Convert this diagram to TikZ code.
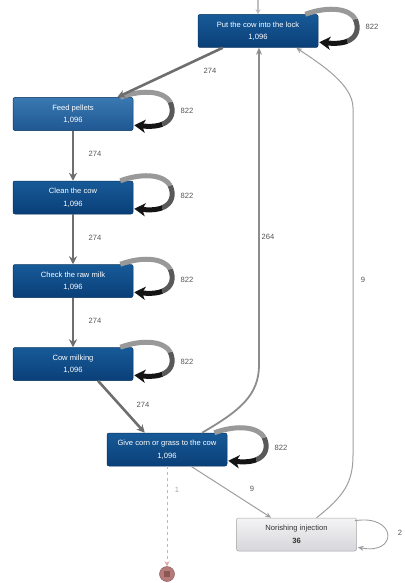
\documentclass[tikz,border=0pt]{standalone}
\usepackage{fontspec}
\setmainfont{Liberation Sans}
\usetikzlibrary{arrows.meta,calc}
\definecolor{actTop}{HTML}{175A98}
\definecolor{actBot}{HTML}{0A3F78}
\definecolor{actLine}{HTML}{08335F}
\definecolor{feedTop}{HTML}{3A78B2}
\definecolor{feedBot}{HTML}{1F5893}
\definecolor{injTop}{HTML}{F4F4F6}
\definecolor{injBot}{HTML}{D6D6DA}
\definecolor{flowMain}{HTML}{6E6E6E}
\definecolor{flowMid}{HTML}{8C8C8C}
\definecolor{flowThin}{HTML}{9E9E9E}
\definecolor{lblGrey}{HTML}{555555}
\definecolor{endFill}{HTML}{B57A7A}
\definecolor{endCore}{HTML}{8E5555}
\definecolor{endLine}{HTML}{E0A8A8}
\begin{document}
\begin{tikzpicture}[x=1pt,y=-1pt,
  act/.style={draw=actLine, line width=0.5pt, rounded corners=2pt,
    top color=actTop, bottom color=actBot, text=white,
    minimum width=120pt, minimum height=33pt, inner sep=0pt,
    align=center, font=\fontsize{7.6}{12.5}\selectfont},
  feedact/.style={act, top color=feedTop, bottom color=feedBot},
  injact/.style={act, draw=gray!70, top color=injTop, bottom color=injBot,
    text=black!80},
  lbl/.style={text=lblGrey, font=\fontsize{7.6}{8}\selectfont, inner sep=1pt},
  mainflow/.style={draw=flowMain, line width=2.6pt,
    -{Stealth[length=8pt,width=8pt]}},
  midflow/.style={draw=flowMid, line width=1.8pt,
    -{Stealth[length=7pt,width=6pt]}},
  thinflow/.style={draw=flowThin, line width=1pt,
    -{Stealth[length=6pt,width=5pt]}},
  loopA/.style={draw=black!40, line width=5pt},
  loopB/.style={draw=black!65, line width=5pt},
  loopC/.style={draw=black!92, line width=5pt,
    -{Stealth[length=11pt,width=13pt,inset=3pt]}},
]
\useasboundingbox (0,0) rectangle (404,583);

% activities
\node[act]     (top)   at (258,31)    {Put the cow into the lock\\1,096};
\node[feedact] (feed)  at (73,114)    {Feed pellets\\1,096};
\node[act]     (clean) at (73,197.5)  {Clean the cow\\1,096};
\node[act]     (check) at (73,281)    {Check the raw milk\\1,096};
\node[act]     (milk)  at (73,364)    {Cow milking\\1,096};
\node[act]     (give)  at (167,449.5) {Give corn or grass to the cow\\1,096};
\node[injact]  (inj)   at (296.5,534.5) {Norishing injection\\\textbf{36}};

% end event
\node[circle, draw=endFill!80!black, line width=0.5pt, fill=endFill,
      minimum size=15pt, inner sep=0pt] (end) at (167,574) {};
\node[fill=endCore, minimum size=6pt, inner sep=0pt] (endcore) at (end.center) {};

% entry into the first activity
\coordinate (entry) at (258,0);
\draw[draw=black!25, line width=1.4pt, -{Stealth[length=5pt,width=5pt]}]
  (entry) -- (top.north);

% self loops of the blue activities
\foreach \n in {top,feed,clean,check,milk,give}{
  \draw[loopA] ($(\n.north east)+(-13,0)$)
     .. controls ($(\n.north east)+(12,-9)$) and ($(\n.north east)+(32,-5)$)
     .. ($(\n.north east)+(37,5)$);
  \draw[loopB] ($(\n.north east)+(37,5)$)
     .. controls ($(\n.north east)+(41,14)$) and ($(\n.north east)+(39,23)$)
     .. ($(\n.north east)+(29,27)$);
  \draw[loopC] ($(\n.north east)+(29,27)$)
     .. controls ($(\n.north east)+(21.5,30)$) and ($(\n.north east)+(12,29)$)
     .. ($(\n.north east)+(1,28)$);
}

% self loop of the injection
\draw[thinflow, line width=0.9pt]
  ($(inj.north east)+(-2,3)$)
  .. controls ($(inj.north east)+(40,-4)$) and ($(inj.south east)+(42,4)$)
  .. ($(inj.south east)+(1,-4)$);

% main flow
\draw[mainflow] ($(top.south west)+(25,0)$) -- ($(feed.north east)+(-16,0)$);
\draw[mainflow] (feed.south) -- (clean.north);
\draw[mainflow] (clean.south) -- (check.north);
\draw[mainflow] (check.south) -- (milk.north);
\draw[mainflow] ($(milk.south)+(25,0)$) -- ($(give.north west)+(38,0)$);

% back to the lock
\draw[midflow] ($(give.north)+(35,0)$)
  .. controls ($(give.north)+(73,-22)$) and (259,395) .. (259,365)
  -- ($(top.south)+(1,0)$);
\draw[thinflow] ($(inj.north)+(20,0)$)
  .. controls ($(inj.north)+(48,-22)$) and (353,482) .. (353,455)
  -- (353,108) .. controls (353,85) and (322,65) .. ($(top.south east)+(-22,0)$);

% towards the injection and the end
\draw[thinflow] ($(give.south)+(24,0)$) -- ($(inj.north west)+(35,0)$);
\draw[draw=endLine, line width=1pt, dashed,
      -{Stealth[length=5pt,width=5pt,open]}] (give.south) -- (end.north);

% frequencies
\node[lbl] (f0) at (372,27)  {822};
\node[lbl] (f1) at (187,111) {822};
\node[lbl] (f2) at (187,196) {822};
\node[lbl] (f3) at (187,280) {822};
\node[lbl] (f4) at (187,362) {822};
\node[lbl] (f5) at (281,448) {822};
\node[lbl] (f6) at (400,533) {2};
\node[lbl] (t0) at (210,71)  {274};
\node[lbl] (t1) at (95,154)  {274};
\node[lbl] (t2) at (95,238)  {274};
\node[lbl] (t3) at (95,321)  {274};
\node[lbl] (t4) at (143,405) {274};
\node[lbl] (r0) at (268,237) {264};
\node[lbl] (r1) at (363,280) {9};
\node[lbl] (r2) at (252,489) {9};
\node[lbl, text=black!35] (d0) at (177,490) {1};
\end{tikzpicture}
\end{document}
